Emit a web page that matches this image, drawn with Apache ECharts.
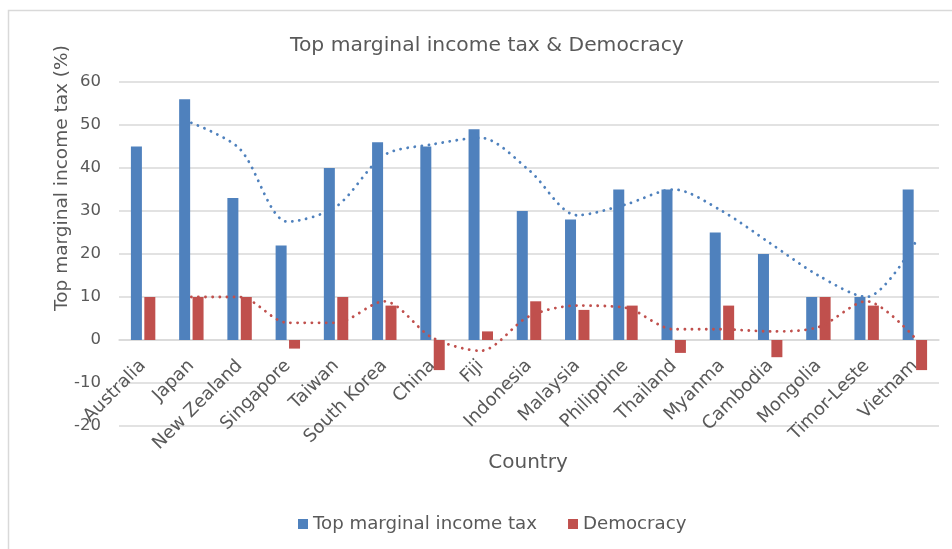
<!DOCTYPE html>
<html>
<head>
<meta charset="utf-8">
<script src="https://cdn.jsdelivr.net/npm/echarts@6/dist/echarts.min.js"></script>
<style>
html,body{margin:0;padding:0;background:#fff;}
#chart{width:952px;height:549px;}
</style>
</head>
<body>
<div id="chart"></div>
<script>
const countries = ['Australia','Japan','New Zealand','Singapore','Taiwan','South Korea','China','Fiji','Indonesia','Malaysia','Philippine','Thailand','Myanma','Cambodia','Mongolia','Timor-Leste','Vietnam'];
const taxRate = [45,56,33,22,40,46,45,49,30,28,35,35,25,20,10,10,35];
const democracy = [10,10,10,-2,10,8,-7,2,9,7,8,-3,8,-4,10,8,-7];
// two-period moving averages (trend lines)
const taxTrend = ['-',50.5,44.5,27.5,31,43,45.5,47,39.5,29,31.5,35,30,22.5,15,10,22.5];
const demTrend = ['-',10,10,4,4,9,0.5,-2.5,5.5,8,7.5,2.5,2.5,2,3,9,0.5];
const yTicks = [-20,-10,0,10,20,30,40,50,60];

const BLUE = '#4F81BD', RED = '#C0504D', TEXT = '#595959', GRID = '#D9D9D9';
const FONT = 'DejaVu Sans, sans-serif';

// plot area in pixels; the category labels sit just under the zero line
const PLOT_TOP = 82, PLOT_BOTTOM = 426;
const zeroOffset = (PLOT_BOTTOM - PLOT_TOP) * (0 - yTicks[0]) / (yTicks[yTicks.length-1] - yTicks[0]);

const chart = echarts.init(document.getElementById('chart'), null, {renderer:'canvas'});
chart.setOption({
  animation:false,
  backgroundColor:'#fff',
  title:{
    text:'Top marginal income tax & Democracy',
    left:285, top:31,
    textStyle:{fontFamily:FONT, fontSize:20.3, fontWeight:'normal', color:TEXT}
  },
  legend:{
    left:293, top:510,
    itemWidth:10, itemHeight:10, itemGap:31,
    icon:'rect',
    data:['Top marginal income tax','Democracy'],
    textStyle:{fontFamily:FONT, fontSize:18.2, color:TEXT}
  },
  grid:{left:119, right:13, top:PLOT_TOP, bottom:549-PLOT_BOTTOM, containLabel:false},
  xAxis:{
    type:'category',
    data:countries,
    axisLine:{onZero:true, lineStyle:{color:GRID, width:1.5}},
    axisTick:{show:false},
    axisLabel:{rotate:45, interval:0, margin:23 - zeroOffset, fontFamily:FONT, fontSize:18, color:TEXT}
  },
  yAxis:{
    type:'value',
    min:yTicks[0], max:yTicks[yTicks.length-1], interval:10,
    axisLine:{show:false}, axisTick:{show:false},
    axisLabel:{margin:18, fontFamily:FONT, fontSize:16.5, color:TEXT},
    splitLine:{lineStyle:{color:GRID, width:1.5}}
  },
  graphic:[
    {type:'rect', shape:{x:8.5, y:10.5, width:1000, height:600}, style:{fill:'none', stroke:GRID, lineWidth:1.5}, silent:true, z:-1},
    {type:'text', x:62, y:178, rotation:Math.PI/2, style:{text:'Top marginal income tax (%)', fontFamily:FONT, fontSize:18.5, fill:TEXT, textAlign:'center', textVerticalAlign:'middle'}},
    {type:'text', x:528, y:463, style:{text:'Country', fontFamily:FONT, fontSize:20, fill:TEXT, textAlign:'center', textVerticalAlign:'middle'}}
  ],
  series:[
    {name:'Top marginal income tax', type:'bar', data:taxRate, barWidth:11, barGap:'22%', itemStyle:{color:BLUE}},
    {name:'Democracy', type:'bar', data:democracy, barWidth:11, itemStyle:{color:RED}},
    {name:'taxTrend', type:'line', data:taxTrend, smooth:0.3, symbol:'none', z:5,
     lineStyle:{color:BLUE, width:2.8, type:[0.1,7], cap:'round'}},
    {name:'demTrend', type:'line', data:demTrend, smooth:0.3, symbol:'none', z:5,
     lineStyle:{color:RED, width:2.8, type:[0.1,7], cap:'round'}}
  ]
});
</script>
</body>
</html>
